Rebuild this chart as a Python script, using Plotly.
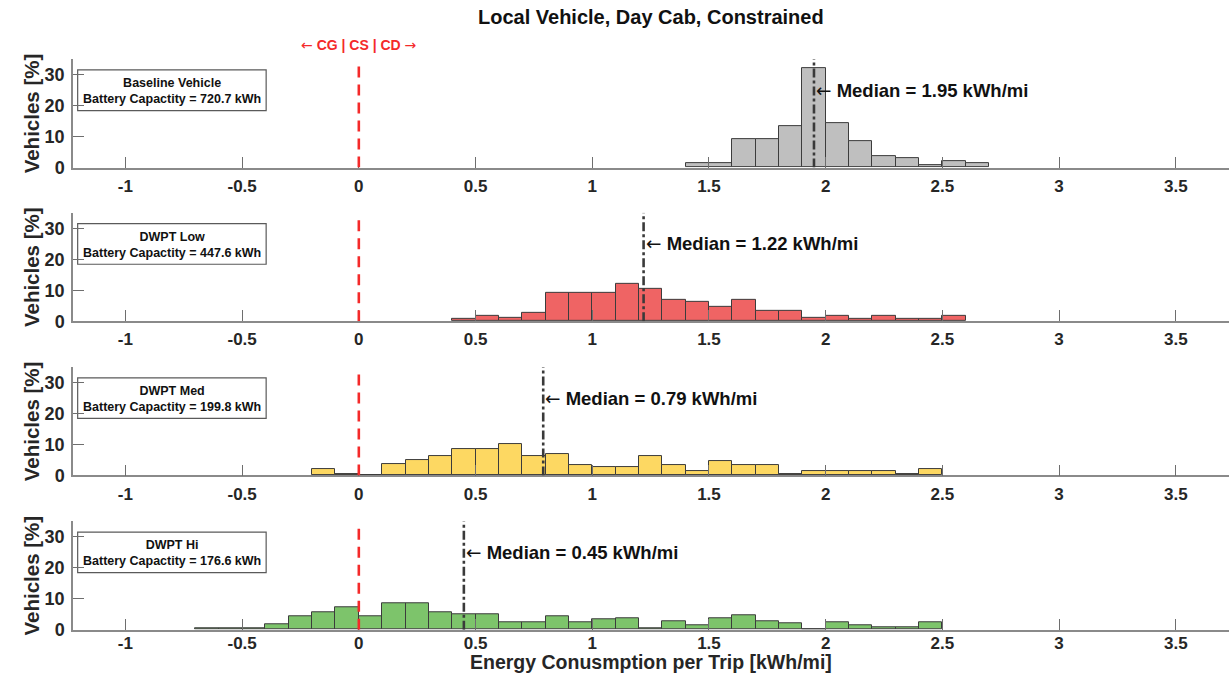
import numpy as np
import plotly.graph_objects as go

# ---- data: share of vehicles [%] per 0.1 kWh/mi bin, bins listed from first left edge ----
BIN_W = 0.1

baseline_start = 1.4
baseline_pct = [1.4, 1.4, 9.2, 9.2, 13.4, 32.0, 14.4, 8.6, 3.6, 2.9, 0.7, 2.1, 1.5]

low_start = 0.4
low_pct = [0.7, 1.9, 1.1, 2.8, 9.3, 9.3, 9.3, 12.2, 10.6, 6.9, 6.3, 4.8, 7.0,
           3.3, 3.3, 1.2, 1.9, 0.7, 1.9, 0.7, 0.7, 1.9]

med_start = -0.2
med_pct = [2.0, 0.6, 0.0, 3.6, 4.9, 6.4, 8.6, 8.6, 10.0, 6.4, 7.0, 3.5, 2.6,
           2.6, 6.4, 3.5, 1.3, 4.8, 3.4, 3.4, 0.5, 1.4, 1.4, 1.4, 1.4, 0.5, 2.0]

hi_start = -0.7
hi_pct = [0.6, 0.6, 0.6, 1.6, 4.4, 5.6, 7.2, 4.4, 8.6, 8.6, 5.7, 4.9, 4.9,
          2.3, 2.3, 4.4, 2.3, 3.5, 3.6, 0.5, 2.7, 1.5, 3.7, 4.5, 2.7, 2.2,
          0.0, 2.3, 1.5, 0.7, 0.7, 2.3]

scenario_names = ["Baseline Vehicle", "DWPT Low", "DWPT Med", "DWPT Hi"]
battery_kwh = [720.7, 447.6, 199.8, 176.6]
medians = [1.95, 1.22, 0.79, 0.45]
bar_colors = ["#BFBFBF", "#EF6464", "#FDD862", "#7DC46B"]
starts = [baseline_start, low_start, med_start, hi_start]
series = [baseline_pct, low_pct, med_pct, hi_pct]

x_ticks = [-1, -0.5, 0, 0.5, 1, 1.5, 2, 2.5, 3, 3.5]
x_tick_text = ["-1", "-0.5", "0", "0.5", "1", "1.5", "2", "2.5", "3", "3.5"]
y_ticks = [0, 10, 20, 30]

# ---- layout geometry ----
W, H = 1229, 685
FONT = "Liberation Sans, Arial, sans-serif"
TXT = "#262626"
x_dom = [73 / W, 1.0]
# (bottom, top) pixel rows of each panel
panel_px = [(170, 60), (326, 216), (482.5, 372.5), (639, 529)]
y_doms = [[1 - b / H, 1 - t / H] for b, t in panel_px]
label_standoff = [2, 2, 2, -3]


def thin(glyph):
    """Light-weight arrow glyph inside bold annotation text."""
    return f'<span style="font-family:DejaVu Sans;font-weight:normal">{glyph}</span>'


fig = go.Figure()

for i, (start, vals) in enumerate(zip(starts, series)):
    n = i + 1
    sfx = "" if n == 1 else str(n)
    centers = start + BIN_W / 2 + BIN_W * np.arange(len(vals))
    fig.add_trace(go.Bar(
        x=centers, y=vals, width=BIN_W,
        marker=dict(color=bar_colors[i], line=dict(color="#3c3c3c", width=1)),
        xaxis="x" + sfx, yaxis="y" + sfx, showlegend=False,
        hovertemplate="%{x:.2f}: %{y:.1f}%<extra></extra>",
    ))

    fig.update_layout(**{
        "xaxis" + sfx: dict(
            domain=x_dom, anchor="y" + sfx, range=[-1.2245, 3.728],
            tickvals=x_ticks, ticktext=x_tick_text,
            ticks="inside", ticklen=11, tickwidth=1.2, tickcolor="#6e6e6e",
            showline=True, linecolor="#8a8a8a", linewidth=1.5,
            showgrid=False, zeroline=False, ticklabelstandoff=label_standoff[i],
            tickfont=dict(family=FONT, size=17, color=TXT, weight="bold"),
        ),
        "yaxis" + sfx: dict(
            domain=y_doms[i], anchor="x" + sfx, range=[0, 35],
            tickvals=y_ticks, ticks="inside", ticklen=11, tickwidth=1.2,
            tickcolor="#6e6e6e", showline=True, linecolor="#8a8a8a",
            linewidth=1.5, showgrid=False, zeroline=False,
            ticklabelstandoff=3,
            tickfont=dict(family=FONT, size=18, color=TXT, weight="bold"),
        ),
    })

    xr, yr = "x" + sfx, "y" + sfx

    # charge-gaining / sustaining / depleting boundary
    fig.add_shape(type="line", xref=xr, yref=yr, x0=0, x1=0, y0=0, y1=33,
                  line=dict(color="#F42A2A", width=2.6, dash="11px,7px"))
    # median marker
    fig.add_shape(type="line", xref=xr, yref=yr, x0=medians[i], x1=medians[i],
                  y0=0, y1=35, line=dict(color="#3a3a3a", width=2.6,
                                         dash="9px,3px,3px,3px"))
    fig.add_annotation(xref=xr, yref=yr, x=medians[i], y=25, xanchor="left",
                       yanchor="middle", showarrow=False, xshift=0,
                       text=f"{thin(chr(0x2190))} <b>Median = {medians[i]:.2f} kWh/mi</b>",
                       font=dict(family=FONT, size=18.5, color="#111111"))

    # scenario label box
    fig.add_shape(type="rect", xref=xr, yref=yr, x0=-1.2045, x1=-0.397,
                  y0=18.4, y1=31.5, layer="below",
                  line=dict(color="#5a5a5a", width=1.2), fillcolor="white")
    fig.add_annotation(xref=xr, yref=yr, x=-0.80, y=24.7, showarrow=False,
                       xanchor="center", yanchor="middle", align="center",
                       text=f"<b>{scenario_names[i]}</b><br>"
                            f"<b>Battery Capactity = {battery_kwh[i]:.1f} kWh</b>",
                       font=dict(family=FONT, size=12.5, color="#111111"))

    # y-axis title
    fig.add_annotation(xref="paper", yref="paper", x=31 / W,
                       y=(y_doms[i][0] + y_doms[i][1]) / 2, textangle=-90,
                       showarrow=False, xanchor="center", yanchor="middle",
                       text="<b>Vehicles [%]</b>",
                       font=dict(family=FONT, size=20.5, color=TXT))

# region label above the top panel
fig.add_annotation(xref="x", yref="paper", x=0, y=1 - 46 / H, showarrow=False,
                   xanchor="center", yanchor="middle",
                   text=f"{thin(chr(0x2190))} <b>CG | CS | CD</b> {thin(chr(0x2192))}",
                   font=dict(family=FONT, size=14, color="#F42A2A"))

# figure title and shared x-axis title
fig.add_annotation(xref="paper", yref="paper", x=(73 + W) / 2 / W, y=1 - 17 / H,
                   showarrow=False, xanchor="center", yanchor="middle",
                   text="<b>Local Vehicle, Day Cab, Constrained</b>",
                   font=dict(family=FONT, size=20, color="#111111"))
fig.add_annotation(xref="paper", yref="paper", x=(73 + W) / 2 / W, y=0,
                   showarrow=False, xanchor="center", yanchor="bottom",
                   text="<b>Energy Conusmption per Trip [kWh/mi]</b>",
                   font=dict(family=FONT, size=19.5, color=TXT))

fig.update_layout(
    width=W, height=H, margin=dict(l=0, r=0, t=0, b=0),
    paper_bgcolor="white", plot_bgcolor="white",
    bargap=0, showlegend=False,
)

fig.write_html("out.html")
